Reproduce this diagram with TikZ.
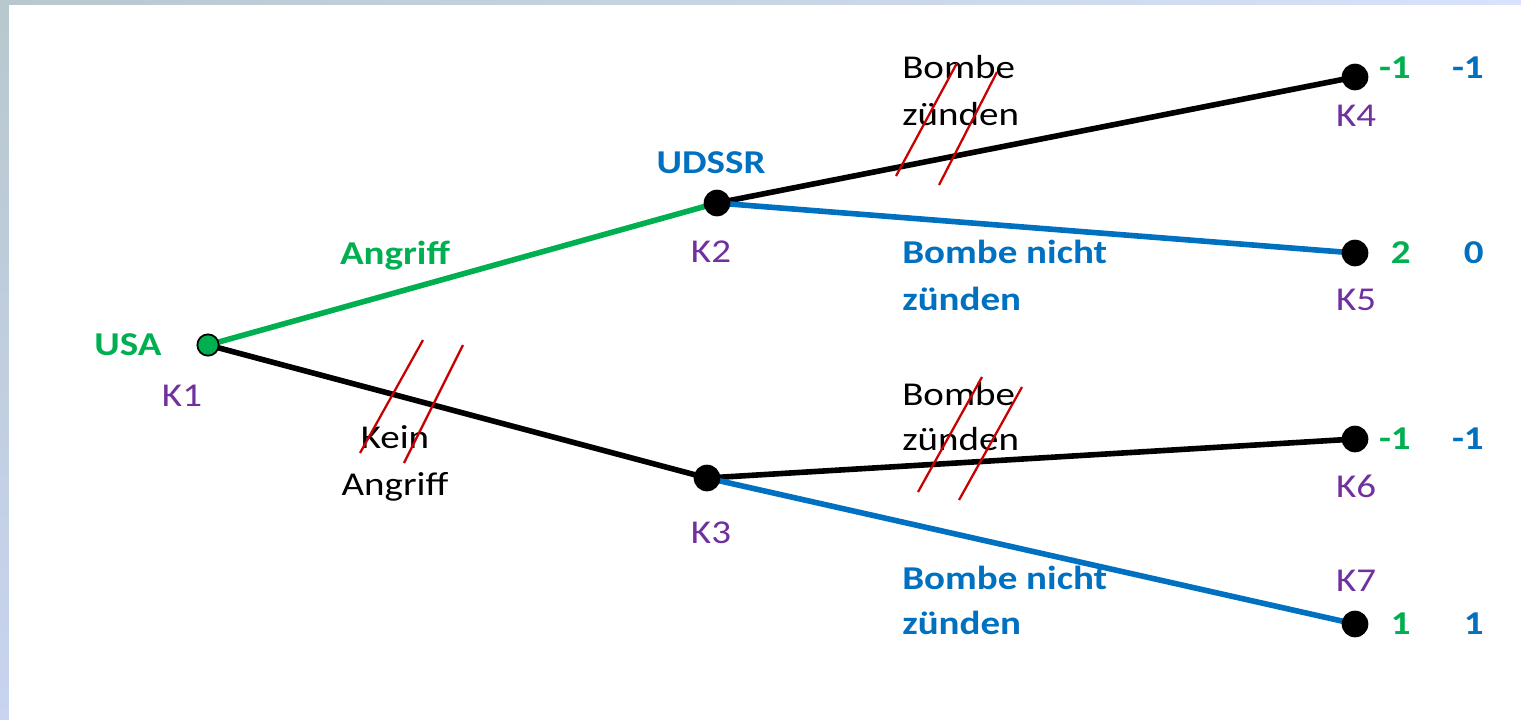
\documentclass[tikz,border=0pt]{standalone}
\usepackage{fontspec}
\setmainfont{Carlito}[FakeStretch=1.17]
\usetikzlibrary{backgrounds}
\definecolor{cgreen}{RGB}{0,176,80}
\definecolor{cblue}{RGB}{0,112,192}
\definecolor{cpurple}{RGB}{112,48,160}
\definecolor{cred}{RGB}{200,0,0}
\definecolor{bgA}{RGB}{184,200,206}
\definecolor{bgB}{RGB}{216,226,252}
\definecolor{bgC}{RGB}{200,212,240}
\begin{document}
\begin{tikzpicture}[x=0.75pt,y=-0.75pt,
  txt/.style={inner sep=0pt, font=\fontsize{25}{35}\selectfont},
  btxt/.style={inner sep=0pt, font=\fontsize{25}{35}\selectfont\bfseries},
  dot/.style={circle, fill=black, inner sep=0pt, minimum size=20pt},
  rootdot/.style={circle, fill=cgreen, draw=black, line width=1.3pt, inner sep=0pt, minimum size=16pt},
  edge/.style={line width=4.2pt},
  strike/.style={cred, line width=1.7pt}]
\useasboundingbox (0,0) rectangle (1521,719);
% nodes of the tree
\node[rootdot] (K1) at (208,345) {};
\node[dot] (K2) at (717,203) {};
\node[dot] (K3) at (707,478) {};
\node[dot] (K4) at (1355,77) {};
\node[dot] (K5) at (1355,253) {};
\node[dot] (K6) at (1355,439) {};
\node[dot] (K7) at (1355,624) {};
\begin{scope}[on background layer]
  \shade[left color=bgA, right color=bgB] (0,0) rectangle (1521,5);
  \shade[top color=bgA, bottom color=bgC] (0,0) rectangle (9,719);
  \fill[white] (9,5) rectangle (1521,719);
  \draw[edge, cgreen] (K1.center) -- (K2.center);
  \draw[edge, black] (K1.center) -- (K3.center);
  \draw[edge, black] (K2.center) -- (K4.center);
  \draw[edge, cblue] (K2.center) -- (K5.center);
  \draw[edge, black] (K3.center) -- (K6.center);
  \draw[edge, cblue] (K3.center) -- (K7.center);
\end{scope}
% player labels
\node[btxt, text=cgreen, anchor=base] (usa) at (128,355) {USA};
\node[btxt, text=cblue, anchor=base] (udssr) at (711,173) {UDSSR};
% node names
\node[txt, text=cpurple, anchor=base] (lK1) at (182,406) {K1};
\node[txt, text=cpurple, anchor=base] (lK2) at (711,262) {K2};
\node[txt, text=cpurple, anchor=base] (lK3) at (711,543) {K3};
\node[txt, text=cpurple, anchor=base] (lK4) at (1356,126) {K4};
\node[txt, text=cpurple, anchor=base] (lK5) at (1356,310) {K5};
\node[txt, text=cpurple, anchor=base] (lK6) at (1356,497) {K6};
\node[txt, text=cpurple, anchor=base] (lK7) at (1356,591) {K7};
% action labels
\node[btxt, text=cgreen, anchor=base] (angriff) at (395,264) {Angriff};
\node[txt, anchor=base] (kein1) at (395,448) {Kein};
\node[txt, anchor=base] (kein2) at (395,495) {Angriff};
\node[txt, anchor=base west] (bz1a) at (902,78) {Bombe};
\node[txt, anchor=base west] (bz1b) at (902,125) {zünden};
\node[btxt, text=cblue, anchor=base west] (bn1a) at (902,263) {Bombe nicht};
\node[btxt, text=cblue, anchor=base west] (bn1b) at (902,310) {zünden};
\node[txt, anchor=base west] (bz2a) at (902,405) {Bombe};
\node[txt, anchor=base west] (bz2b) at (902,450) {zünden};
\node[btxt, text=cblue, anchor=base west] (bn2a) at (902,589) {Bombe nicht};
\node[btxt, text=cblue, anchor=base west] (bn2b) at (902,634) {zünden};
% payoffs
\node[btxt, text=cgreen, anchor=base east] (p4a) at (1411,78) {-1};
\node[btxt, text=cblue, anchor=base east] (p4b) at (1484,78) {-1};
\node[btxt, text=cgreen, anchor=base east] (p5a) at (1411,263) {2};
\node[btxt, text=cblue, anchor=base east] (p5b) at (1484,263) {0};
\node[btxt, text=cgreen, anchor=base east] (p6a) at (1411,449) {-1};
\node[btxt, text=cblue, anchor=base east] (p6b) at (1484,449) {-1};
\node[btxt, text=cgreen, anchor=base east] (p7a) at (1411,634) {1};
\node[btxt, text=cblue, anchor=base east] (p7b) at (1484,634) {1};
% strike marks
\draw[strike] (896,176) -- (957,63);
\draw[strike] (939,185) -- (997,72);
\draw[strike] (360,453) -- (423,340);
\draw[strike] (404,463) -- (463,345);
\draw[strike] (918,492) -- (982,377);
\draw[strike] (959,500) -- (1022,387);
\end{tikzpicture}
\end{document}
